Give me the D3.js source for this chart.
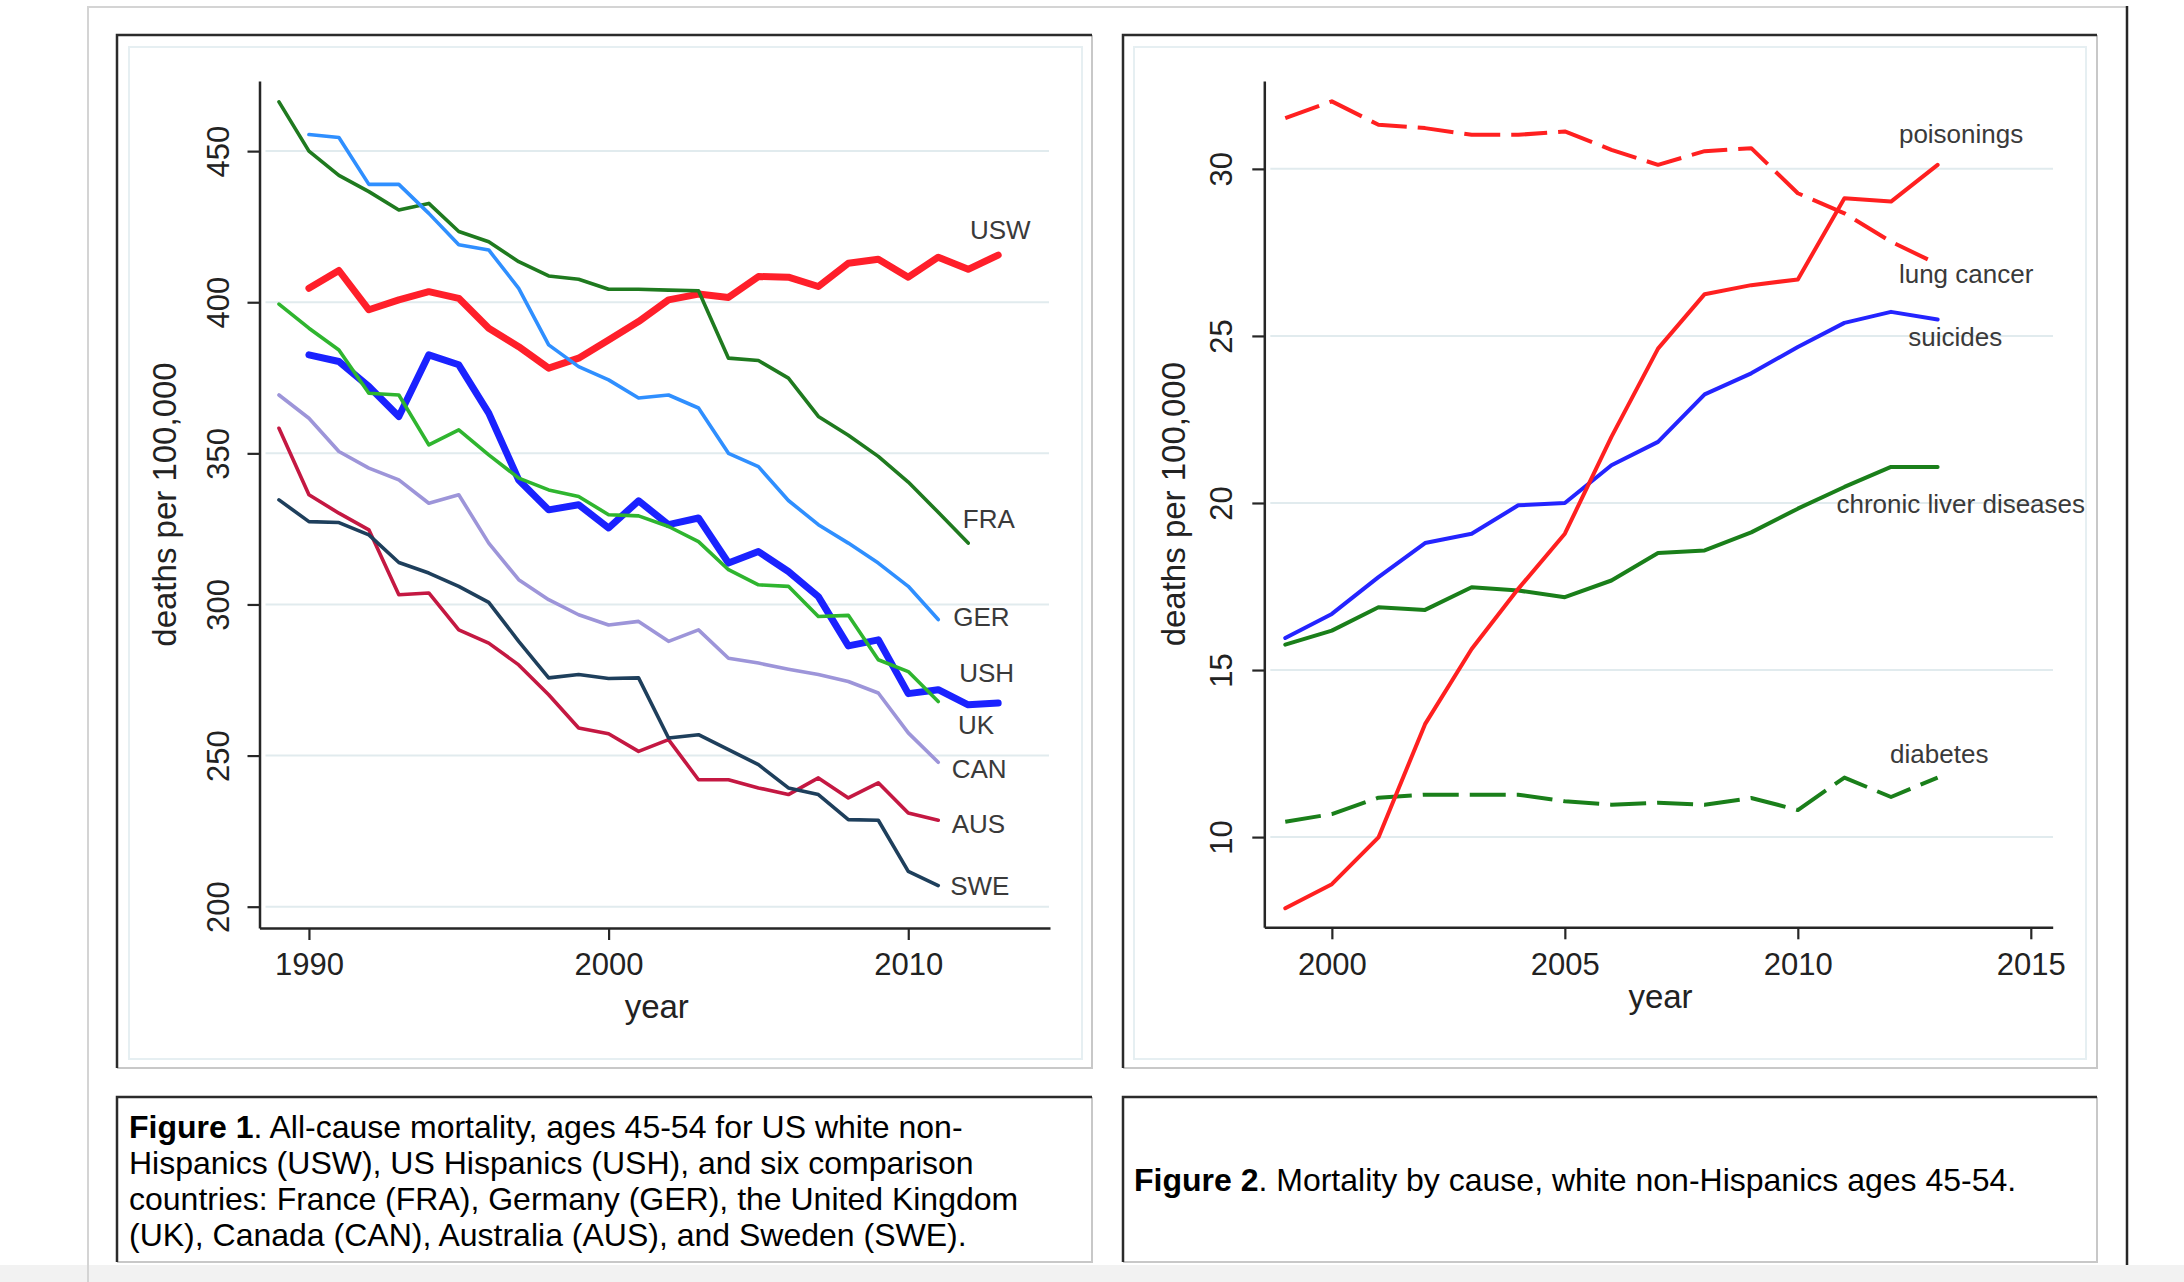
<!DOCTYPE html>
<html>
<head>
<meta charset="utf-8">
<script src="https://cdn.jsdelivr.net/npm/d3@7"></script>
<style>
    body { margin: 0; background: #ffffff; }
    svg { display: block; font-family: "Liberation Sans", Arial, Helvetica, sans-serif; }
</style>
</head>
<body>
<script>

// canvas size
var canvasX = 2184;
var canvasY = 1282;

// figure 1: years and all-cause mortality per country
var uswYears = d3.range(1990, 2014);
var usw = [404.6, 410.5, 397.5, 400.8, 403.5, 401.3, 391.4, 385.3, 378.2, 381.5, 387.5, 393.6,
           400.8, 402.7, 401.6, 408.5, 408.3, 405.2, 412.9, 414.2, 408.3, 414.9, 410.9, 415.6];
var ushYears = d3.range(1990, 2014);
var ush = [382.6, 380.4, 372.1, 362.2, 382.6, 379.3, 363.3, 341.2, 331.3, 333.0, 325.3, 334.3,
           326.4, 328.6, 313.7, 317.5, 310.9, 302.6, 286.3, 288.3, 270.5, 271.8, 266.8, 267.4];
var fraYears = d3.range(1989, 2013);
var fra = [466.3, 450.0, 442.0, 436.6, 430.5, 432.7, 423.4, 420.0, 413.4, 408.7, 407.6, 404.3,
           404.3, 404.0, 403.8, 381.5, 380.7, 374.9, 362.2, 356.0, 349.0, 340.5, 330.5, 320.3];
var gerYears = d3.range(1990, 2012);
var ger = [455.5, 454.5, 439.0, 439.0, 429.4, 419.0, 417.3, 404.6, 385.9, 378.7, 374.3, 368.3,
           369.3, 365.0, 350.0, 345.6, 334.4, 326.4, 320.3, 313.7, 306.0, 295.0];
var ukYears = d3.range(1989, 2012);
var uk = [399.4, 391.4, 384.2, 369.9, 369.3, 352.8, 357.8, 349.5, 341.8, 337.9, 335.7, 329.7,
          329.3, 325.8, 320.8, 311.5, 306.5, 306.0, 296.0, 296.4, 281.7, 277.8, 267.9];
var canYears = d3.range(1989, 2012);
var can = [369.3, 361.6, 350.6, 345.1, 341.2, 333.5, 336.3, 320.3, 308.2, 301.6, 296.6, 293.2,
           294.4, 287.8, 291.6, 282.2, 280.6, 278.6, 276.8, 274.5, 270.7, 257.5, 247.8];
var ausYears = d3.range(1989, 2012);
var aus = [358.3, 336.3, 330.2, 324.7, 303.2, 303.8, 291.6, 287.2, 280.0, 270.1, 259.1, 257.2,
           251.4, 255.3, 242.0, 242.0, 239.3, 237.1, 242.6, 236.0, 241.0, 231.0, 228.6];
var sweYears = d3.range(1989, 2012);
var swe = [334.6, 327.4, 327.1, 323.0, 313.9, 310.4, 306.0, 300.7, 287.8, 275.7, 276.8, 275.5,
           275.7, 255.8, 256.9, 252.0, 247.0, 239.3, 237.1, 228.8, 228.6, 211.7, 207.0];

// figure 1 tick labels
var xTicks1 = [1990, 2000, 2010];
var yTicks1 = [200, 250, 300, 350, 400, 450];

// figure 1 end labels, placed in data units [text, year, value]
var labels1 = [["USW", 2012.06, 420.8], ["FRA", 2011.82, 325.2], ["GER", 2011.5, 293.0],
               ["USH", 2011.7, 274.4], ["UK", 2011.66, 257.1], ["CAN", 2011.45, 242.5],
               ["AUS", 2011.45, 224.3], ["SWE", 2011.4, 203.8]];

// figure 2: years and cause specific mortality
var years2 = d3.range(1999, 2014);
var poisonings = [7.87, 8.59, 9.99, 13.38, 15.63, 17.43, 19.08, 21.98, 24.62, 26.25, 26.52, 26.69, 29.12, 29.02, 30.12];
var lungCancer = [31.52, 32.02, 31.32, 31.22, 31.02, 31.02, 31.12, 30.57, 30.12, 30.53, 30.62, 29.27, 28.67, 27.82, 27.15];
var suicides = [15.96, 16.68, 17.78, 18.80, 19.08, 19.93, 20.0, 21.13, 21.83, 23.25, 23.88, 24.67, 25.39, 25.72, 25.49];
var liver = [15.76, 16.18, 16.88, 16.80, 17.48, 17.38, 17.18, 17.68, 18.50, 18.58, 19.12, 19.83, 20.48, 21.08, 21.08];
var diabetes = [10.46, 10.69, 11.18, 11.27, 11.27, 11.27, 11.07, 10.97, 11.03, 10.97, 11.17, 10.81, 11.78, 11.20, 11.78];

// figure 2 tick labels
var xTicks2 = [2000, 2005, 2010, 2015];
var yTicks2 = [10, 15, 20, 25, 30];

// figure 2 end labels [text, year, value]
var labels2 = [["poisonings", 2012.17, 30.77], ["lung cancer", 2012.17, 26.58],
               ["suicides", 2012.37, 24.70], ["chronic liver diseases", 2010.83, 19.71],
               ["diabetes", 2011.98, 12.21]];

// captions, one entry per line
var caption1 = [[["Figure 1", true], [". All-cause mortality, ages 45-54 for US white non-", false]],
                [["Hispanics (USW), US Hispanics (USH), and six comparison", false]],
                [["countries: France (FRA), Germany (GER), the United Kingdom", false]],
                [["(UK), Canada (CAN), Australia (AUS), and Sweden (SWE).", false]]];
var caption2 = [[["Figure 2", true], [". Mortality by cause, white non-Hispanics ages 45-54.", false]]];


window.onload = function() {

    var svg = d3.select("body")
                .append("svg")
                .attr("width", canvasX)
                .attr("height", canvasY);

    drawFrame(svg);

    // left panel
    drawPanel(svg, {
        box: [117, 35, 1092, 1068],
        inner: [129, 47, 1082, 1059],
        xRange: [259.5, 1050], xDomain: [1988.35, 2014.73],
        yRange: [928, 81], yDomain: [192.95, 473.2],
        gridEnd: 1049,
        xTicks: xTicks1, yTicks: yTicks1,
        tickLabelX: 31, xTickBase: 47,
        yTitleX: 176, yearBase: 1018,
        series: [
            {years: uswYears, values: usw, color: "#ff1f2a", width: 7},
            {years: ushYears, values: ush, color: "#1a22ff", width: 7},
            {years: fraYears, values: fra, color: "#1f7a1f", width: 3.6},
            {years: gerYears, values: ger, color: "#2f8fff", width: 3.6},
            {years: ukYears, values: uk, color: "#2fb52f", width: 3.6},
            {years: canYears, values: can, color: "#9d95d9", width: 3.6},
            {years: ausYears, values: aus, color: "#c41842", width: 3.6},
            {years: sweYears, values: swe, color: "#1e3f5c", width: 3.6}
        ],
        labels: labels1
    });

    // right panel
    drawPanel(svg, {
        box: [1123, 35, 2097, 1068],
        inner: [1134, 47, 2086, 1059],
        xRange: [1264.3, 2052.7], xDomain: [1998.55, 2015.47],
        yRange: [927.3, 81], yDomain: [7.30, 32.63],
        gridEnd: 2053,
        xTicks: xTicks2, yTicks: yTicks2,
        tickLabelX: 32, xTickBase: 48,
        yTitleX: 1185, yearBase: 1008,
        series: [
            {years: years2, values: suicides, color: "#2424ff", width: 4},
            {years: years2, values: liver, color: "#1a7f1a", width: 4},
            {years: years2, values: diabetes, color: "#1a7f1a", width: 4, dash: "36,11"},
            {years: years2, values: lungCancer, color: "#ff2020", width: 4, dash: "36,11"},
            {years: years2, values: poisonings, color: "#ff2020", width: 4}
        ],
        labels: labels2
    });

    // caption boxes
    drawCaption(svg, [117, 1097, 1092, 1262], caption1, 129, 1138);
    drawCaption(svg, [1123, 1097, 2097, 1262], caption2, 1134, 1191);
};

// page background and frame lines
function drawFrame(svg) {

    svg.append("rect")
       .attr("x", 0).attr("y", 1265)
       .attr("width", canvasX).attr("height", canvasY - 1265)
       .attr("fill", "#f2f2f2");

    svg.append("path")
       .attr("d", "M88,1282V7H2127")
       .attr("fill", "none")
       .attr("stroke", "#d4d4d4")
       .attr("stroke-width", 2);

    svg.append("line")
       .attr("x1", 2127).attr("x2", 2127)
       .attr("y1", 6).attr("y2", 1265)
       .attr("stroke", "#262626")
       .attr("stroke-width", 2.5);
};

// box with dark top/left and light bottom/right edge
function drawBox(svg, b) {

    svg.append("rect")
       .attr("x", b[0]).attr("y", b[1])
       .attr("width", b[2] - b[0]).attr("height", b[3] - b[1])
       .attr("fill", "#ffffff");

    svg.append("path")
       .attr("d", "M" + b[0] + "," + b[3] + "H" + b[2] + "V" + b[1])
       .attr("fill", "none")
       .attr("stroke", "#c8c8c8")
       .attr("stroke-width", 2);

    svg.append("path")
       .attr("d", "M" + b[0] + "," + b[3] + "V" + b[1] + "H" + b[2])
       .attr("fill", "none")
       .attr("stroke", "#2b2b2b")
       .attr("stroke-width", 2.5);
};

// draws one chart panel
function drawPanel(svg, c) {

    drawBox(svg, c.box);

    // light inner plot region
    svg.append("rect")
       .attr("x", c.inner[0]).attr("y", c.inner[1])
       .attr("width", c.inner[2] - c.inner[0]).attr("height", c.inner[3] - c.inner[1])
       .attr("fill", "none")
       .attr("stroke", "#e6eff2")
       .attr("stroke-width", 2);

    var scaleX = d3.scaleLinear().domain(c.xDomain).range(c.xRange);
    var scaleY = d3.scaleLinear().domain(c.yDomain).range(c.yRange);

    // gridlines
    svg.append("g")
       .selectAll("line")
       .data(c.yTicks)
       .enter()
       .append("line")
       .attr("x1", c.xRange[0] + 6)
       .attr("x2", c.gridEnd)
       .attr("y1", function(d) { return scaleY(d); })
       .attr("y2", function(d) { return scaleY(d); })
       .attr("stroke", "#e1ebee")
       .attr("stroke-width", 2);

    // y axis with rotated labels
    var yAxis = svg.append("g")
       .attr("transform", "translate(" + c.xRange[0] + ",0)")
       .call(d3.axisLeft(scaleY).tickValues(c.yTicks).tickSize(12).tickSizeOuter(0));

    yAxis.selectAll("text")
         .attr("transform", "rotate(-90)")
         .attr("x", 0)
         .attr("y", -c.tickLabelX)
         .attr("dy", 0)
         .attr("text-anchor", "middle");

    // x axis
    var xAxis = svg.append("g")
       .attr("transform", "translate(0," + c.yRange[0] + ")")
       .call(d3.axisBottom(scaleX).tickValues(c.xTicks).tickFormat(d3.format("d"))
               .tickSize(12).tickSizeOuter(0));

    xAxis.selectAll("text")
         .attr("y", c.xTickBase)
         .attr("dy", 0);

    [yAxis, xAxis].forEach(function(a) {
        a.select(".domain").attr("stroke", "#262626").attr("stroke-width", 2.5);
        a.selectAll(".tick line").attr("stroke", "#262626").attr("stroke-width", 2.2);
        a.selectAll("text")
         .attr("fill", "#222222")
         .style("font-family", "'Liberation Sans', Arial, sans-serif")
         .style("font-size", "31px");
    });

    // axis titles
    svg.append("text")
       .attr("transform", "translate(" + c.yTitleX + "," + (c.yRange[0] + c.yRange[1]) / 2 + ") rotate(-90)")
       .attr("text-anchor", "middle")
       .attr("fill", "#222222")
       .style("font-size", "33px")
       .text("deaths per 100,000");

    svg.append("text")
       .attr("x", (c.xRange[0] + c.xRange[1]) / 2 + 2)
       .attr("y", c.yearBase)
       .attr("text-anchor", "middle")
       .attr("fill", "#222222")
       .style("font-size", "33px")
       .text("year");

    // data lines
    var line = d3.line()
                 .x(function(d) { return scaleX(d[0]); })
                 .y(function(d) { return scaleY(d[1]); });

    c.series.forEach(function(s) {
        var points = d3.zip(s.years, s.values);
        svg.append("path")
           .datum(points)
           .attr("d", line)
           .attr("fill", "none")
           .attr("stroke", s.color)
           .attr("stroke-width", s.width)
           .attr("stroke-linejoin", "round")
           .attr("stroke-linecap", s.dash ? "butt" : "round")
           .attr("stroke-dasharray", s.dash ? s.dash : null);
    });

    // end labels
    svg.append("g")
       .selectAll("text")
       .data(c.labels)
       .enter()
       .append("text")
       .attr("x", function(d) { return scaleX(d[1]); })
       .attr("y", function(d) { return scaleY(d[2]); })
       .attr("fill", "#3a3a3a")
       .style("font-size", "26px")
       .text(function(d) { return d[0]; });
};

// caption box with bold figure number
function drawCaption(svg, box, lines, textX, firstBase) {

    drawBox(svg, box);

    var text = svg.append("text")
                  .attr("fill", "#000000")
                  .style("font-size", "32px");

    lines.forEach(function(parts, i) {
        parts.forEach(function(p, j) {
            var span = text.append("tspan")
                           .style("font-weight", p[1] ? "bold" : "normal")
                           .text(p[0]);
            if (j == 0) {
                span.attr("x", textX).attr("y", firstBase + i * 36);
            }
        });
    });
};

</script>
</body>
</html>
